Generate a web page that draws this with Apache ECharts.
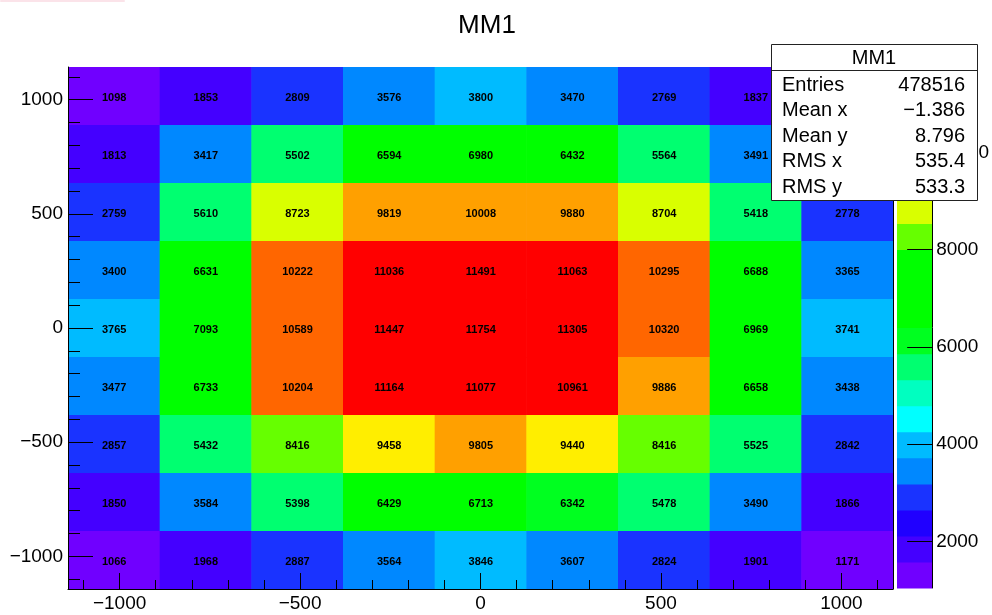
<!DOCTYPE html>
<html><head><meta charset="utf-8">
<script src="https://cdn.jsdelivr.net/npm/echarts@6/dist/echarts.min.js"></script>
<style>html,body{margin:0;padding:0;background:#fff}#c{width:992px;height:615px}</style>
</head><body><div id="c"></div>
<script>
// ---------- data ----------
const xCenters = [-1016, -762, -508, -254, 0, 254, 508, 762, 1016];
const yCenters = [1016, 762, 508, 254, 0, -254, -508, -762, -1016]; // rows, top to bottom
const binWidth = 254;
const axisMin = -1143, axisMax = 1143;
const row1 = [1098, 1853, 2809, 3576, 3800, 3470, 2769, 1837, 1110];
const row2 = [1813, 3417, 5502, 6594, 6980, 6432, 5564, 3491, 1755];
const row3 = [2759, 5610, 8723, 9819, 10008, 9880, 8704, 5418, 2778];
const row4 = [3400, 6631, 10222, 11036, 11491, 11063, 10295, 6688, 3365];
const row5 = [3765, 7093, 10589, 11447, 11754, 11305, 10320, 6969, 3741];
const row6 = [3477, 6733, 10204, 11164, 11077, 10961, 9886, 6658, 3438];
const row7 = [2857, 5432, 8416, 9458, 9805, 9440, 8416, 5525, 2842];
const row8 = [1850, 3584, 5398, 6429, 6713, 6342, 5478, 3490, 1866];
const row9 = [1066, 1968, 2887, 3564, 3846, 3607, 2824, 1901, 1171];
const rows = [row1, row2, row3, row4, row5, row6, row7, row8, row9];
const majorTicks = [-1000, -500, 0, 500, 1000];
const minorTicks = [-1100, -900, -800, -700, -600, -400, -300, -200, -100, 100, 200, 300, 400, 600, 700, 800, 900, 1100];
const paletteTicks = [2000, 4000, 6000, 8000, 10000];
const zMin = 1040, zMax = 11760, nLevels = 20;
const levelColors = ['#7000ff', '#4400ff', '#2000ff', '#1a33ff', '#0088ff', '#00bbff', '#00ffff', '#00ffc0', '#00ff70', '#00ff20',
                     '#00ff00', '#00ff00', '#00ff00', '#66ff00', '#d9ff00', '#ffee00', '#ffa000', '#ff6600', '#ff0000', '#ff0000'];
const histTitle = 'MM1';
const statsLabels = ['Entries', 'Mean x', 'Mean y', 'RMS x', 'RMS y'];
const statsValues = ['478516', '\u22121.386', '8.796', '535.4', '533.3'];

// ---------- build ----------
const FONT = '"Liberation Sans", Arial, sans-serif';
const cells = [];
rows.forEach((r, i) => r.forEach((v, j) => cells.push([xCenters[j], yCenters[i], v])));
const levelStep = (zMax - zMin) / nLevels;
const levels = levelColors.map((c, k) => [0, zMin + k * levelStep, zMin + (k + 1) * levelStep, k]);
const minus = v => String(v).replace('-', '\u2212');

function levelOf(v) {
  return Math.min(nLevels - 1, Math.max(0, Math.floor((v - zMin) / levelStep)));
}
function renderCell(params, api) {
  const x = api.value(0), y = api.value(1), v = api.value(2);
  const p0 = api.coord([x - binWidth / 2, y + binWidth / 2]);
  const p1 = api.coord([x + binWidth / 2, y - binWidth / 2]);
  return {
    type: 'rect',
    shape: { x: p0[0], y: p0[1], width: p1[0] - p0[0] + 0.6, height: p1[1] - p0[1] + 0.6 },
    style: { fill: levelColors[levelOf(v)] },
    textContent: { style: { text: String(v), font: 'bold 11px ' + FONT, fill: '#000' } },
    textConfig: { position: 'inside', offset: [0, 2] }
  };
}
function renderLevel(params, api) {
  const p0 = api.coord([0, api.value(2)]);
  const p1 = api.coord([1, api.value(1)]);
  return {
    type: 'rect',
    shape: { x: p0[0], y: p0[1], width: p1[0] - p0[0], height: p1[1] - p0[1] + 0.6 },
    style: { fill: levelColors[api.value(3)] }
  };
}

const axisBase = { type: 'value', min: axisMin, max: axisMax, splitLine: { show: false }, z: 10 };
const blackLine = { lineStyle: { color: '#000', width: 1 } };

const SFONT = '20px ' + FONT;
const statsChildren = [
  { type: 'rect', z: 100, shape: { x: 0.5, y: 0.5, width: 206, height: 156 }, style: { fill: '#fff', stroke: '#222', lineWidth: 1 } },
  { type: 'line', z: 101, shape: { x1: 0.5, y1: 26.5, x2: 206.5, y2: 26.5 }, style: { stroke: '#222', lineWidth: 1 } },
  { type: 'text', z: 101, x: 103, y: 14, style: { text: histTitle, align: 'center', verticalAlign: 'middle', font: SFONT, fill: '#000' } }
];
statsLabels.forEach((lab, i) => {
  const yy = 41 + i * 25.5;
  statsChildren.push({ type: 'text', z: 101, x: 11, y: yy, style: { text: lab, align: 'left', verticalAlign: 'middle', font: SFONT, fill: '#000' } });
  statsChildren.push({ type: 'text', z: 101, x: 194, y: yy, style: { text: statsValues[i], align: 'right', verticalAlign: 'middle', font: SFONT, fill: '#000' } });
});

const option = {
  animation: false,
  backgroundColor: '#fff',
  title: {
    text: histTitle, left: 482, top: 8, textAlign: 'center',
    textStyle: { fontSize: 26, fontWeight: 'normal', fontFamily: FONT, color: '#000' }
  },
  grid: [
    { left: 68, top: 67, width: 825, height: 522 },
    { left: 897, top: 67, width: 47, height: 521 }
  ],
  xAxis: [
    Object.assign({}, axisBase, {
      gridIndex: 0, position: 'bottom',
      axisLine: Object.assign({ show: true, onZero: false }, blackLine),
      axisTick: Object.assign({ show: true, inside: true, length: 16, customValues: majorTicks }, blackLine),
      axisLabel: { customValues: majorTicks, formatter: minus, fontSize: 19, fontFamily: FONT, color: '#000', margin: 5 }
    }),
    Object.assign({}, axisBase, {
      gridIndex: 0, position: 'bottom',
      axisLine: { show: false, onZero: false },
      axisTick: Object.assign({ show: true, inside: true, length: 9, customValues: minorTicks }, blackLine),
      axisLabel: { show: false }
    }),
    { type: 'value', gridIndex: 1, min: 0, max: 1, show: false }
  ],
  yAxis: [
    Object.assign({}, axisBase, {
      gridIndex: 0, position: 'left',
      axisLine: Object.assign({ show: true, onZero: false }, blackLine),
      axisTick: Object.assign({ show: true, inside: true, length: 25, customValues: majorTicks }, blackLine),
      axisLabel: { customValues: majorTicks, formatter: minus, fontSize: 19, fontFamily: FONT, color: '#000', margin: 5 }
    }),
    Object.assign({}, axisBase, {
      gridIndex: 0, position: 'left',
      axisLine: { show: false, onZero: false },
      axisTick: Object.assign({ show: true, inside: true, length: 12, customValues: minorTicks }, blackLine),
      axisLabel: { show: false }
    }),
    Object.assign({}, axisBase, {
      gridIndex: 0, position: 'right',
      axisLine: Object.assign({ show: true, onZero: false }, blackLine),
      axisTick: { show: false }, axisLabel: { show: false }
    }),
    {
      type: 'value', gridIndex: 1, min: zMin, max: zMax, position: 'right', z: 10,
      splitLine: { show: false },
      axisLine: Object.assign({ show: true, onZero: false }, blackLine),
      axisTick: Object.assign({ show: true, inside: true, length: 25, customValues: paletteTicks }, blackLine),
      axisLabel: { customValues: paletteTicks, formatter: v => String(v), fontSize: 19, fontFamily: FONT, color: '#000', margin: 4 }
    }
  ],
  series: [
    {
      type: 'custom', xAxisIndex: 0, yAxisIndex: 0, renderItem: renderCell,
      encode: { x: 0, y: 1 }, data: cells, clip: true, z: 1
    },
    {
      type: 'custom', xAxisIndex: 2, yAxisIndex: 3, renderItem: renderLevel,
      encode: { x: 0, y: [1, 2] }, data: levels, z: 1
    }
  ],
  graphic: [
    { type: 'rect', z: 100, shape: { x: 0, y: 0, width: 125, height: 2, r: 1 }, style: { fill: '#fbe3e9' } },
    { type: 'group', left: 769, top: 44, z: 100, children: statsChildren }
  ]
};
const chart = echarts.init(document.getElementById('c'), null, { renderer: 'canvas' });
chart.setOption(option);
</script>
</body></html>
